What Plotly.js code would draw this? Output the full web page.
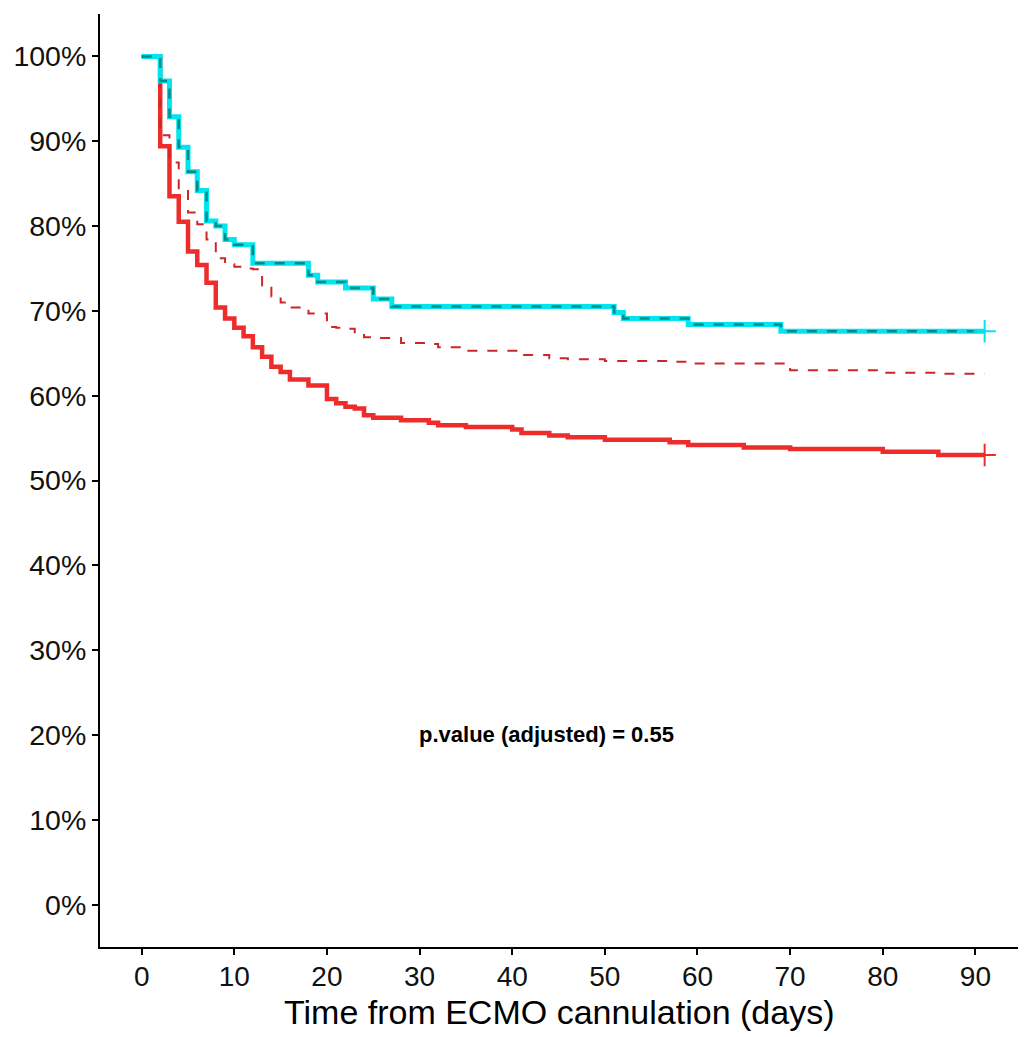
<!DOCTYPE html>
<html>
<head>
<meta charset="utf-8">
<script src="https://cdn.plot.ly/plotly-3.0.1.min.js"></script>
<style>html,body{margin:0;padding:0;background:#fff;}#chart{width:1025px;height:1037px;}</style>
</head>
<body>
<div id="chart"></div>
<script>
// Reference group (unadjusted = adjusted)
const refTimes = [0, 2, 3, 4, 5, 6, 7, 8, 9, 10, 12, 18, 19, 22, 25, 27, 51, 52, 59, 69, 91];
const refSurvival = [100, 97.1, 92.9, 89.3, 86.4, 84.2, 80.6, 80.0, 78.4, 77.8, 75.6, 74.2, 73.4, 72.7, 71.4, 70.5, 69.8, 69.1, 68.4, 67.6, 67.6];

// Comparison group
const grpTimes = [0, 2, 3, 4, 5, 6, 7, 8, 9, 10, 11, 12, 13, 14, 15, 16, 18, 20, 21, 22, 23, 24, 25, 28, 31, 32, 35, 40, 41, 44, 46, 50, 57, 59, 65, 70, 80, 86, 91];
const grpSurvival = [100, 89.4, 83.5, 80.5, 77.0, 75.4, 73.3, 70.4, 69.1, 68.0, 67.0, 65.7, 64.6, 63.4, 62.8, 61.9, 61.2, 59.6, 59.1, 58.7, 58.5, 57.7, 57.4, 57.1, 56.8, 56.5, 56.3, 56.0, 55.6, 55.3, 55.1, 54.8, 54.5, 54.2, 53.9, 53.7, 53.4, 53.0, 53.0];
const grpAdjusted = [100, 90.7, 87.5, 84.3, 81.6, 80.2, 78.4, 76.2, 75.5, 75.2, 75.0, 74.9, 73.0, 71.7, 71.0, 70.4, 69.7, 68.1, 68.0, 67.9, 67.3, 66.9, 66.8, 66.2, 66.1, 65.7, 65.3, 65.3, 64.8, 64.4, 64.3, 64.1, 64.0, 63.8, 63.8, 63.0, 62.7, 62.6, 62.6];

const censorTime = [91];
const refCensor = [67.6];
const grpCensor = [53.0];

const xTicks = [0, 10, 20, 30, 40, 50, 60, 70, 80, 90];
const yTicks = [0, 0.1, 0.2, 0.3, 0.4, 0.5, 0.6, 0.7, 0.8, 0.9, 1.0];

const xTitle = 'Time from ECMO cannulation (days)';
const pText = 'p.value (adjusted) = 0.55';

const pct = a => a.map(v => v / 100);

const RED = '#EE2C2C';
const RED_DASH = '#CD2626';
const CYAN = '#00E5EE';
const TEAL = '#008B8B';

const traces = [
  {x: grpTimes, y: pct(grpSurvival), mode: 'lines', line: {shape: 'hv', color: RED, width: 4.5}, hoverinfo: 'skip'},
  {x: grpTimes, y: pct(grpAdjusted), mode: 'lines', line: {shape: 'hv', color: RED_DASH, width: 2, dash: '10px,10px'}, hoverinfo: 'skip'},
  {x: refTimes, y: pct(refSurvival), mode: 'lines', line: {shape: 'hv', color: CYAN, width: 5}, hoverinfo: 'skip'},
  {x: refTimes, y: pct(refSurvival), mode: 'lines', line: {shape: 'hv', color: TEAL, width: 2.5, dash: '10px,10px'}, hoverinfo: 'skip'},
  {x: censorTime, y: pct(refCensor), mode: 'markers', marker: {symbol: 'cross-thin-open', size: 16, color: CYAN, line: {color: CYAN, width: 2}}, hoverinfo: 'skip'},
  {x: censorTime, y: pct(grpCensor), mode: 'markers', marker: {symbol: 'cross-thin-open', size: 16, color: RED, line: {color: RED, width: 2}}, hoverinfo: 'skip'}
];

const layout = {
  width: 1025, height: 1037,
  margin: {l: 100, r: 7, t: 14, b: 90},
  paper_bgcolor: '#fff', plot_bgcolor: '#fff',
  showlegend: false,
  font: {family: '"Liberation Sans", Arial, sans-serif', color: '#000'},
  xaxis: {
    range: [-4.5, 94.6], tickvals: xTicks, ticktext: xTicks.map(String),
    showgrid: false, zeroline: false, showline: true, linecolor: '#000', linewidth: 2,
    ticks: 'outside', ticklen: 6, tickwidth: 2, tickcolor: '#000',
    tickfont: {size: 28, color: '#111'}, ticklabelstandoff: -3,
    automargin: false
  },
  yaxis: {
    range: [-0.05, 1.05], tickvals: yTicks, tickformat: '.0%',
    showgrid: false, zeroline: false, showline: true, linecolor: '#000', linewidth: 2,
    ticks: 'outside', ticklen: 6, tickwidth: 2, tickcolor: '#000',
    tickfont: {size: 28.5, color: '#111'},
    automargin: false
  },
  annotations: [
    {x: 43.75, y: 0.2, xref: 'x', yref: 'y', text: '<b>' + pText + '</b>', showarrow: false, font: {size: 22, color: '#000'}},
    {x: 0.5, y: -0.048, xref: 'paper', yref: 'paper', xanchor: 'center', yanchor: 'top', borderpad: 0, text: xTitle, showarrow: false, font: {size: 34, color: '#000'}}
  ]
};

Plotly.newPlot('chart', traces, layout, {displayModeBar: false, staticPlot: true});
</script>
</body>
</html>
